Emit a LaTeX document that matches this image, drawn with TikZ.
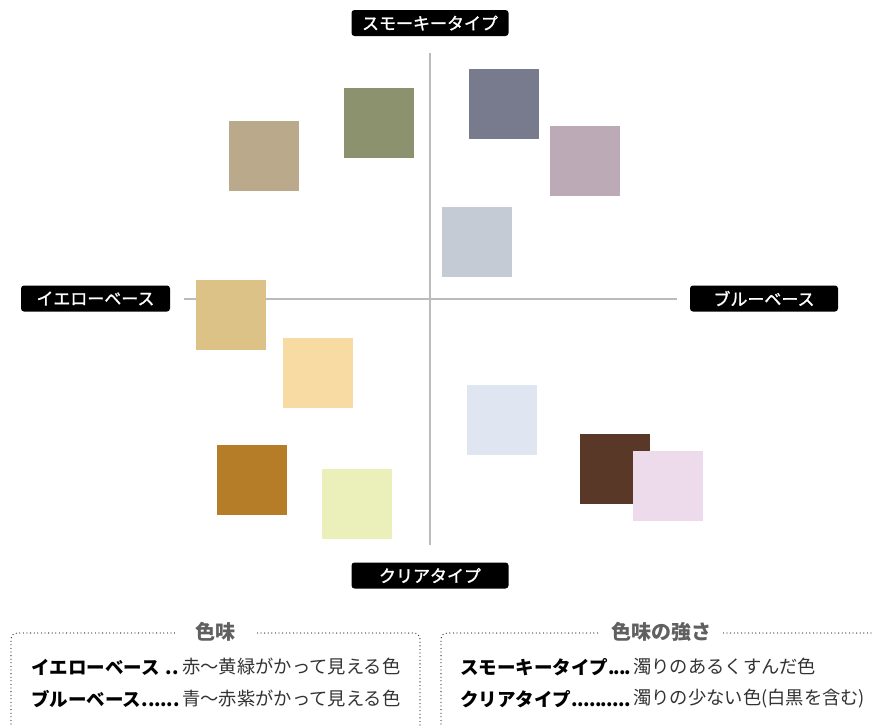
\documentclass[tikz,border=0pt]{standalone}
\usepackage{fontspec}
\setmainfont{Noto Sans CJK JP}
\newfontfamily\labelfont{Noto Sans CJK JP}[FakeBold=1.4]
\usetikzlibrary{positioning}

\definecolor{axisgray}{HTML}{BBBBBB}
\definecolor{dotgray}{HTML}{333333}
\definecolor{titlegray}{HTML}{606060}
\definecolor{tan}{HTML}{BAA98B}
\definecolor{olive}{HTML}{8C916E}
\definecolor{slate}{HTML}{787B8D}
\definecolor{mauve}{HTML}{BCAAB7}
\definecolor{mist}{HTML}{C5CBD4}
\definecolor{mustard}{HTML}{DCC286}
\definecolor{cream}{HTML}{F8DBA3}
\definecolor{icyblue}{HTML}{DFE6F1}
\definecolor{ochre}{HTML}{B57D27}
\definecolor{lime}{HTML}{EBEFBA}
\definecolor{cocoa}{HTML}{5A3828}
\definecolor{lilac}{HTML}{EDDAEB}

\newcommand{\keyleader}[2]{\makebox[#1][l]{#2\xleaders\hbox{.\kern-1pt}\hfill\null}}

\tikzset{
  axislabel/.style={fill=black, text=white, rounded corners=3pt, minimum height=26pt,
    inner sep=0pt, font=\labelfont\fontsize{17}{18}\selectfont},
  chip/.style={minimum size=70pt, inner sep=0pt, anchor=north west},
  legendbox/.style={draw=dotgray, line width=1.3pt, dash pattern=on 0pt off 3.6pt,
    line cap=round, rounded corners=6pt},
  legendtitle/.style={fill=white, text=titlegray, inner sep=0pt, minimum height=24pt,
    font=\bfseries\fontsize{20}{22}\selectfont},
  keyterm/.style={anchor=west, inner sep=0pt, font=\bfseries\fontsize{18.5}{20}\selectfont},
  keytext/.style={anchor=west, inner sep=0pt, text=dotgray, font=\fontsize{18.3}{20}\selectfont}
}

\begin{document}
\begin{tikzpicture}[x=1pt, y=-1pt]
    \useasboundingbox (0,0) rectangle (872,726);
    \clip (0,0) rectangle (872,726);

    % 1. Axes of the chart
    \coordinate (top end) at (430,53);
    \coordinate (bottom end) at (430,545);
    \coordinate (left end) at (184,299);
    \coordinate (right end) at (677,299);
    \draw[axisgray, line width=1.3pt] (top end) -- (bottom end);
    \draw[axisgray, line width=1.3pt] (left end) -- (right end);

    % 2. Axis labels
    \node[axislabel, minimum width=157pt] (smoky) at (430,23) {スモーキータイプ};
    \node[axislabel, minimum width=157pt] (clear) at (430,575.5) {クリアタイプ};
    \node[axislabel, minimum width=149pt] (yellow) at (95.5,298.5) {イエローベース};
    \node[axislabel, minimum width=148pt] (blue) at (764,298.5) {ブルーベース};

    % 3. Colour chips
    \foreach \name/\x/\y/\col in {
        sq1/229/121/tan, sq2/344/88/olive, sq3/469/69/slate, sq4/550/126/mauve,
        sq5/442/207/mist, sq6/196/280/mustard, sq7/283/338/cream, sq8/467/385/icyblue,
        sq9/217/445/ochre, sq10/322/469/lime, sq11/580/434/cocoa, sq12/633/451/lilac}
      \node[chip, fill=\col] (\name) at (\x,\y) {};

    % 4. Legend: colour base
    \draw[legendbox] (11,760) -- (11,633) -- (420,633) -- (420,760);
    \node[legendtitle, minimum width=80pt] (hue title) at (215,632) {色味};
    \node[keyterm] (yellow key) at (31,667) {\keyleader{148pt}{イエローベース\ }};
    \node[keytext] (yellow text) at (182,667) {赤〜黄緑がかって見える色};
    \node[keyterm] (blue key) at (31,699) {\keyleader{148pt}{ブルーベース}};
    \node[keytext] (blue text) at (182,699) {青〜赤紫がかって見える色};

    % 5. Legend: colour strength
    \draw[legendbox] (441,760) -- (441,633) -- (900,633);
    \node[legendtitle, minimum width=124pt] (strength title) at (661,632) {色味の強さ};
    \node[keyterm] (smoky key) at (460,667) {\keyleader{170pt}{スモーキータイプ}};
    \node[keytext] (smoky text) at (633,667) {濁りのあるくすんだ色};
    \node[keyterm] (clear key) at (460,699) {\keyleader{170pt}{クリアタイプ}};
    \node[keytext] (clear text) at (633,699) {濁りの少ない色(白黒を含む)};
\end{tikzpicture}
\end{document}
